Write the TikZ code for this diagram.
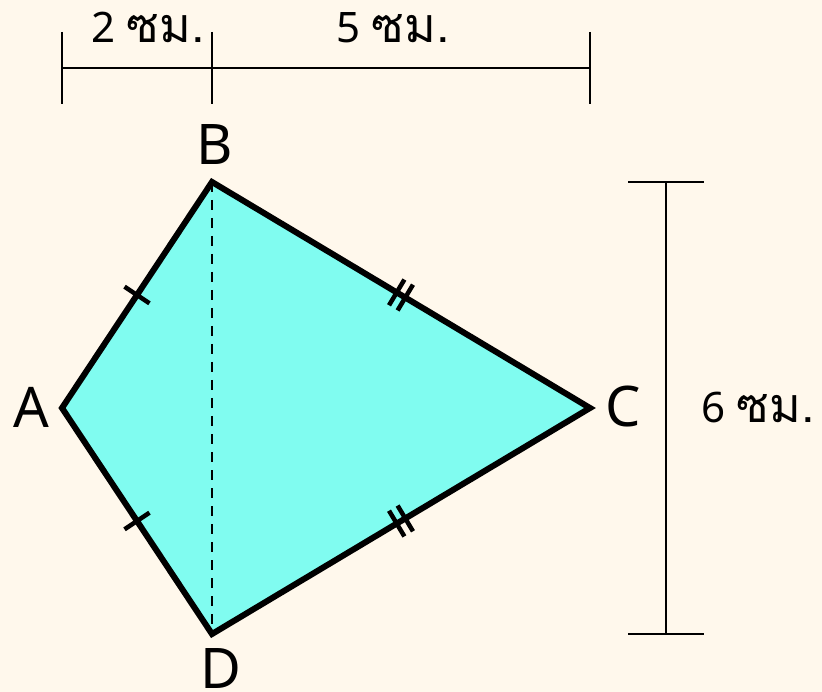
\documentclass[tikz,border=0pt]{standalone}
\usepackage{fontspec}
\usetikzlibrary{calc}
\setmainfont{Noto Sans}
\newfontfamily\thaifont[Script=Thai,Scale=1.15]{Loma}
\definecolor{bgc}{HTML}{FFF8EC}
\definecolor{kitec}{HTML}{80FCF0}
\tikzset{
  edge/.style={line width=6pt, line join=miter},
  dim/.style={line width=2pt},
  tick/.style={line width=4.5pt},
  vlabel/.style={font=\fontsize{56}{60}\selectfont, inner sep=0pt},
  dlabel/.style={font=\fontsize{42}{46}\selectfont, inner sep=0pt, anchor=base},
}
\begin{document}
\begin{tikzpicture}[x=1pt,y=-1pt]
\fill[bgc] (0,0) rectangle (822,692);
\useasboundingbox (0,0) rectangle (822,692);
\coordinate (A) at (62,408);
\coordinate (B) at (212,182);
\coordinate (C) at (590,408);
\coordinate (D) at (212,634);
\fill[kitec] (A) -- (B) -- (C) -- (D) -- cycle;
\draw[dim, dash pattern=on 10pt off 8pt] (B) -- (D);
\draw[edge] (A) -- (B) -- (C) -- (D) -- cycle;
% ticks
\draw[tick] ($(A)!0.5!(B)!15pt!90:(B)$) -- ($(A)!0.5!(B)!15pt!-90:(B)$);
\draw[tick] ($(A)!0.5!(D)!15pt!90:(D)$) -- ($(A)!0.5!(D)!15pt!-90:(D)$);
\foreach \s in {-5,5}{
  \coordinate (m) at ($($(B)!0.5!(C)$)!\s pt!(C)$);
  \draw[tick] ($(m)!15pt!90:(C)$) -- ($(m)!15pt!-90:(C)$);
  \coordinate (n) at ($($(D)!0.5!(C)$)!\s pt!(C)$);
  \draw[tick] ($(n)!15pt!90:(C)$) -- ($(n)!15pt!-90:(C)$);
}
% labels
\node[vlabel] (lA) at (31,407) {A};
\node[vlabel] (lB) at (215,145) {B};
\node[vlabel] (lC) at (623,407) {C};
\node[vlabel] (lD) at (221,669) {D};
% top dimension
\coordinate (t1) at (62,68);
\coordinate (t2) at (212,68);
\coordinate (t3) at (590,68);
\draw[dim] (t1) -- (t3);
\foreach \p in {t1,t2,t3}{ \draw[dim] ($(\p)+(0,-36)$) -- ($(\p)+(0,36)$); }
\node[dlabel] (d2) at (148,43) {2\hspace{0.28em}{\thaifont ซม.}};
\node[dlabel] (d5) at (393,43) {5\hspace{0.28em}{\thaifont ซม.}};
% right dimension
\coordinate (r1) at (666,182);
\coordinate (r2) at (666,634);
\draw[dim] (r1) -- (r2);
\foreach \p in {r1,r2}{ \draw[dim] ($(\p)+(-38,0)$) -- ($(\p)+(38,0)$); }
\node[dlabel] (d6) at (758,423) {6\hspace{0.28em}{\thaifont ซม.}};
\end{tikzpicture}
\end{document}
